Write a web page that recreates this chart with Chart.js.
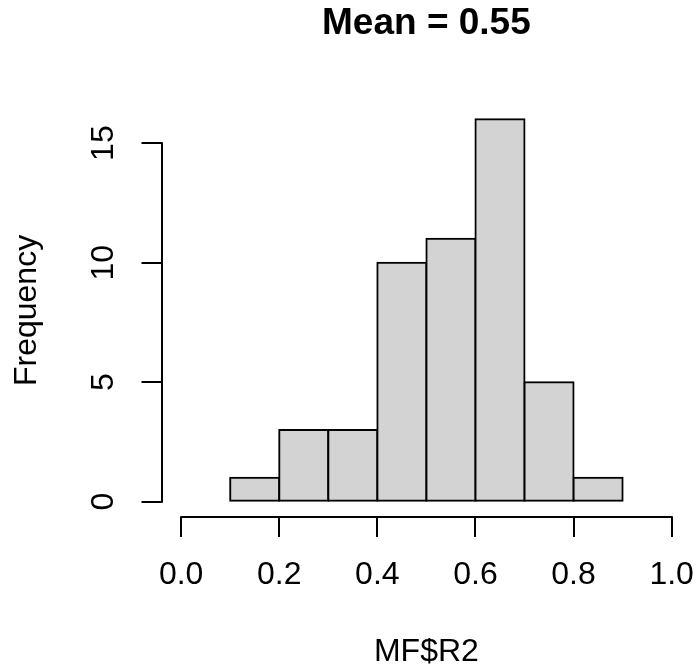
<!DOCTYPE html>
<html><head><meta charset="utf-8">
<script src="https://cdn.jsdelivr.net/npm/chart.js@4.4.0/dist/chart.umd.min.js"></script>
<style>html,body{margin:0;padding:0;background:#fff;overflow:hidden}#wrap{width:696px;height:667px}</style>
</head><body><div id="wrap"><canvas id="c" width="696" height="667"></canvas></div>
<script>
const binCenters = [0.15, 0.25, 0.35, 0.45, 0.55, 0.65, 0.75, 0.85];
const counts = [1, 3, 3, 10, 11, 16, 5, 1];
const xTicks = [0, 0.2, 0.4, 0.6, 0.8, 1.0];
const xTickLabels = ['0.0', '0.2', '0.4', '0.6', '0.8', '1.0'];
const yTicks = [0, 5, 10, 15];
const yTickLabels = ['0', '5', '10', '15'];
const titleText = 'Mean = 0.55';
const xTitle = 'MF$R2';
const yTitle = 'Frequency';

const FAMILY = '"Liberation Sans", Arial, Helvetica, sans-serif';

const axisLines = {
  id: 'axisLines',
  afterDraw(chart) {
    const {ctx, chartArea, scales: {x, y}} = chart;
    ctx.save();
    ctx.strokeStyle = '#000';
    ctx.lineWidth = 2;
    ctx.lineCap = 'round';
    ctx.beginPath();
    const xb = Math.round(chartArea.bottom);
    ctx.moveTo(Math.round(x.getPixelForValue(xTicks[0])), xb);
    ctx.lineTo(Math.round(x.getPixelForValue(xTicks[xTicks.length - 1])), xb);
    const yl = Math.round(chartArea.left);
    ctx.moveTo(yl, Math.round(y.getPixelForValue(yTicks[0])));
    ctx.lineTo(yl, Math.round(y.getPixelForValue(yTicks[yTicks.length - 1])));
    ctx.stroke();
    ctx.restore();
  }
};

new Chart(document.getElementById('c'), {
  type: 'bar',
  data: {
    datasets: [{
      data: binCenters.map((c, i) => ({x: c, y: counts[i]})),
      backgroundColor: '#D3D3D3',
      borderColor: '#000',
      borderWidth: 2,
      borderSkipped: false,
      inflateAmount: 1,
      barPercentage: 1,
      categoryPercentage: 1
    }]
  },
  options: {
    responsive: false,
    animation: false,
    devicePixelRatio: 1,
    events: [],
    layout: {padding: {top: 0, left: 0, right: 4.7, bottom: 0}},
    plugins: {
      legend: {display: false},
      tooltip: {enabled: false},
      title: {
        display: true,
        text: titleText,
        fullSize: false,
        color: '#000',
        font: {family: FAMILY, size: 37, weight: 'bold', lineHeight: 1.2},
        padding: {top: 1.7, bottom: 57.8}
      }
    },
    scales: {
      x: {
        type: 'linear',
        min: -0.04,
        max: 1.04,
        offset: false,
        afterBuildTicks: s => { s.ticks = xTicks.map(v => ({value: v})); },
        afterFit: s => { s.height = 150; s.paddingLeft = 0; s.paddingRight = 0; },
        ticks: {
          autoSkip: false, minRotation: 0, maxRotation: 0, padding: 18.9, color: '#000',
          font: {family: FAMILY, size: 32},
          callback: v => xTickLabels[xTicks.indexOf(v)]
        },
        grid: {display: true, offset: false, drawOnChartArea: false, drawTicks: true, tickLength: 20, color: '#000', lineWidth: 2},
        border: {display: false},
        title: {display: true, text: xTitle, color: '#000', font: {family: FAMILY, size: 32}, padding: {top: 0, bottom: -4}}
      },
      y: {
        type: 'linear',
        min: -0.64,
        max: 16.64,
        afterBuildTicks: s => { s.ticks = yTicks.map(v => ({value: v})); },
        afterFit: s => { s.width = 161.5; s.paddingTop = 0; s.paddingBottom = 0; },
        ticks: {
          autoSkip: false, minRotation: 90, maxRotation: 90, crossAlign: 'center', padding: 19.8, color: '#000',
          font: {family: FAMILY, size: 32},
          callback: v => yTickLabels[yTicks.indexOf(v)]
        },
        grid: {display: true, drawOnChartArea: false, drawTicks: true, tickLength: 20, color: '#000', lineWidth: 2},
        border: {display: false},
        title: {display: true, text: yTitle, color: '#000', font: {family: FAMILY, size: 32}, padding: {top: 7.6, bottom: 0}}
      }
    }
  },
  plugins: [axisLines]
});
</script>
</body></html>
